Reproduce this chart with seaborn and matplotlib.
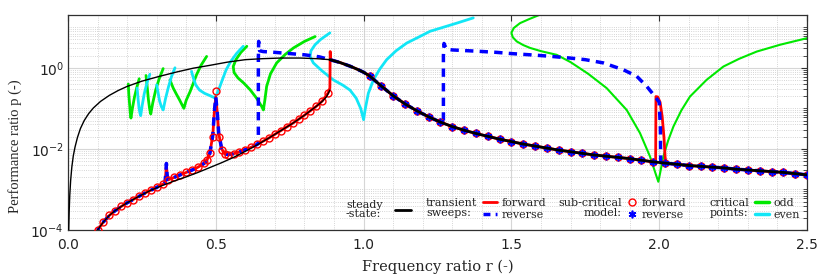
import numpy as np
import matplotlib
matplotlib.use("Agg")
import matplotlib.pyplot as plt
import seaborn as sns
from matplotlib.lines import Line2D
from matplotlib.ticker import LogLocator, MultipleLocator, NullFormatter

# ---- data (r, log10 p) ----
# steady-state, upper branch below the jump (thin)
ss_up_r = [0.0025, 0.004, 0.006, 0.009, 0.013, 0.018, 0.024, 0.032, 0.042, 0.055, 0.07, 0.086,
           0.11, 0.14, 0.17, 0.2, 0.25, 0.31, 0.37, 0.424, 0.48, 0.54, 0.6, 0.66, 0.72, 0.785, 0.84, 0.886]
ss_up_lp = [-4.0, -3.55, -3.15, -2.78, -2.45, -2.17, -1.95, -1.72, -1.5, -1.3, -1.13, -0.99,
            -0.83, -0.68, -0.56, -0.46, -0.33, -0.21, -0.1, -0.01, 0.06, 0.14, 0.2, 0.225, 0.24, 0.24, 0.225, 0.2]

# steady-state, lower branch
ss_lo_r = [0.1, 0.12, 0.14, 0.16, 0.18, 0.2, 0.24, 0.28, 0.32, 0.36, 0.4, 0.44, 0.48, 0.52,
           0.56, 0.6, 0.64, 0.68, 0.72, 0.76, 0.8, 0.84, 0.86, 0.875, 0.886]
ss_lo_lp = [-4.0, -3.8, -3.64, -3.52, -3.42, -3.33, -3.17, -3.02, -2.9, -2.79, -2.69, -2.58, -2.46, -2.34,
            -2.21, -2.06, -1.9, -1.73, -1.55, -1.37, -1.17, -0.95, -0.83, -0.71, -0.55]

# steady-state, branch above the jump (thick), sub-critical points sit on it from r = 1.02
ss_hi_r = [0.886, 0.92, 0.954, 0.98, 1.0, 1.02, 1.06, 1.10, 1.14, 1.18, 1.22, 1.26, 1.30, 1.34, 1.38,
           1.42, 1.46, 1.50, 1.54, 1.58, 1.62, 1.66, 1.70, 1.74, 1.78, 1.82, 1.86, 1.90, 1.94, 1.98,
           2.02, 2.06, 2.10, 2.14, 2.18, 2.22, 2.26, 2.30, 2.34, 2.38, 2.42, 2.46, 2.50]
ss_hi_lp = [0.2, 0.13, 0.04, -0.04, -0.11, -0.2, -0.45, -0.69, -0.89, -1.06, -1.21, -1.34, -1.45, -1.54, -1.62,
            -1.69, -1.76, -1.82, -1.88, -1.93, -1.98, -2.03, -2.07, -2.11, -2.15, -2.18, -2.21, -2.24, -2.28, -2.32,
            -2.35, -2.38, -2.41, -2.43, -2.45, -2.47, -2.50, -2.52, -2.54, -2.56, -2.58, -2.61, -2.64]

# transient forward sweep, lower part (up to the jump)
fwd_lo_r = [0.1, 0.12, 0.14, 0.16, 0.18, 0.2, 0.22, 0.24, 0.26, 0.28, 0.3, 0.32, 0.328, 0.331, 0.333,
            0.335, 0.338, 0.34, 0.36, 0.38, 0.4, 0.42, 0.44, 0.46, 0.47, 0.48, 0.49, 0.495, 0.5, 0.505,
            0.51, 0.52, 0.53, 0.54, 0.56, 0.58, 0.6, 0.62, 0.64, 0.66, 0.68, 0.7, 0.72, 0.74, 0.76,
            0.78, 0.8, 0.82, 0.84, 0.86, 0.88, 0.886, 0.887, 0.889]
fwd_lo_lp = [-4.0, -3.8, -3.64, -3.52, -3.42, -3.33, -3.25, -3.17, -3.09, -3.02, -2.95, -2.87, -2.85, -2.6, -2.36,
             -2.62, -2.76, -2.76, -2.7, -2.64, -2.58, -2.52, -2.45, -2.36, -2.28, -2.11, -1.65, -1.1, -0.72, -1.1,
             -1.62, -2.0, -2.12, -2.14, -2.12, -2.07, -2.02, -1.96, -1.89, -1.81, -1.73, -1.64, -1.55, -1.46, -1.37,
             -1.27, -1.17, -1.06, -0.95, -0.82, -0.62, -0.5, 0.4, 0.2]

# forward sweep excursion at r = 2
fwd_spike_r = [1.988, 1.989, 1.995, 2.003, 2.01, 2.016, 2.02, 2.023]
fwd_spike_lp = [-2.33, -0.71, -0.72, -0.85, -1.2, -1.7, -2.2, -2.36]

# reverse sweep upper excursions (listed in sweep order, right to left)
rev_hi2_r = [2.005, 2.004, 2.0, 1.986, 1.958, 1.924, 1.879, 1.811, 1.75, 1.698, 1.62, 1.563, 1.5,
             1.45, 1.38, 1.30, 1.28, 1.272, 1.27, 1.27]
rev_hi2_lp = [-2.34, -1.5, -0.85, -0.71, -0.46, -0.21, -0.05, 0.12, 0.2, 0.24, 0.29, 0.32, 0.35,
              0.38, 0.41, 0.44, 0.46, 0.6, 0.3, -1.33]
rev_hi1_r = [0.85, 0.8, 0.75, 0.7, 0.66, 0.648, 0.645, 0.644, 0.644]
rev_hi1_lp = [0.27, 0.32, 0.35, 0.38, 0.4, 0.42, 0.65, 0.2, -1.86]

# sub-critical model, lower branch points
sc_lo_r = [0.1, 0.12, 0.14, 0.16, 0.18, 0.2, 0.22, 0.24, 0.26, 0.28, 0.3, 0.32, 0.34, 0.36, 0.38, 0.4,
           0.42, 0.44, 0.46, 0.47, 0.48, 0.49, 0.5, 0.51, 0.52, 0.53, 0.54, 0.56, 0.58, 0.6, 0.62, 0.64,
           0.66, 0.68, 0.7, 0.72, 0.74, 0.76, 0.78, 0.8, 0.82, 0.84, 0.86, 0.88]
sc_lo_lp = [-4.0, -3.8, -3.64, -3.52, -3.42, -3.33, -3.25, -3.17, -3.09, -3.02, -2.95, -2.87, -2.77, -2.7,
            -2.64, -2.58, -2.52, -2.45, -2.36, -2.28, -2.11, -1.7, -0.57, -1.7, -2.02, -2.12, -2.14, -2.12,
            -2.07, -2.02, -1.96, -1.89, -1.81, -1.73, -1.64, -1.55, -1.46, -1.37, -1.27, -1.17, -1.06,
            -0.95, -0.82, -0.62]

# critical points: odd (green) and even (cyan) hooks
odd_hooks = [
    ([0.204, 0.206, 0.209, 0.211, 0.213, 0.218, 0.225, 0.233, 0.241],
     [-0.40, -0.68, -0.95, -1.13, -1.24, -1.0, -0.72, -0.48, -0.27]),
    ([0.264, 0.268, 0.272, 0.276, 0.280, 0.287, 0.297, 0.309, 0.322],
     [-0.19, -0.47, -0.78, -1.0, -1.14, -0.86, -0.54, -0.26, -0.02]),
    ([0.345, 0.356, 0.366, 0.378, 0.387, 0.392, 0.400, 0.413, 0.425, 0.435, 0.450, 0.469],
     [-0.30, -0.50, -0.64, -0.80, -0.93, -1.0, -0.80, -0.59, -0.36, -0.17, 0.06, 0.28]),
    ([0.605, 0.585, 0.568, 0.559, 0.562, 0.575, 0.595, 0.616, 0.638, 0.655, 0.661, 0.666, 0.672,
      0.685, 0.706, 0.735, 0.763, 0.80, 0.836],
     [0.53, 0.38, 0.2, 0.03, -0.12, -0.25, -0.38, -0.54, -0.75, -0.95, -1.04, -0.8, -0.46,
      -0.15, 0.12, 0.33, 0.49, 0.65, 0.77]),
]
odd_r2 = [1.597, 1.56, 1.529, 1.508, 1.50, 1.505, 1.518, 1.54, 1.563, 1.60, 1.653, 1.70, 1.76, 1.822,
          1.89, 1.935, 1.969, 1.991, 1.997, 2.003, 2.014, 2.03, 2.048, 2.075, 2.104, 2.16, 2.217, 2.27,
          2.33, 2.41, 2.5]
odd_lp2 = [1.31, 1.2, 1.1, 0.98, 0.86, 0.75, 0.65, 0.56, 0.49, 0.41, 0.32, 0.14, -0.15, -0.5,
           -1.04, -1.61, -2.19, -2.68, -2.81, -2.6, -2.19, -1.8, -1.45, -1.05, -0.71, -0.3, 0.03, 0.22,
           0.40, 0.57, 0.73]
even_hooks = [
    ([0.234, 0.237, 0.240, 0.243, 0.246, 0.251, 0.258, 0.267, 0.277],
     [-0.50, -0.76, -0.97, -1.10, -1.18, -0.93, -0.64, -0.38, -0.16]),
    ([0.300, 0.305, 0.310, 0.316, 0.322, 0.330, 0.340, 0.350, 0.362],
     [-0.42, -0.62, -0.82, -0.96, -1.04, -0.76, -0.47, -0.22, 0.0]),
    ([0.418, 0.424, 0.432, 0.445, 0.462, 0.478, 0.490, 0.496, 0.503, 0.512, 0.522, 0.535, 0.55, 0.57, 0.593],
     [-0.09, -0.25, -0.42, -0.55, -0.63, -0.68, -0.72, -0.74, -0.66, -0.5, -0.3, -0.05, 0.15, 0.35, 0.53]),
    ([0.886, 0.855, 0.836, 0.822, 0.819, 0.83, 0.86, 0.898, 0.93, 0.954, 0.975, 0.99, 1.0, 1.005,
      1.016, 1.033, 1.055, 1.078, 1.11, 1.146, 1.19, 1.225, 1.27, 1.315, 1.371],
     [0.86, 0.7, 0.57, 0.42, 0.28, 0.12, -0.08, -0.3, -0.43, -0.55, -0.75, -1.0, -1.28, -1.04,
      -0.63, -0.3, -0.03, 0.2, 0.42, 0.61, 0.77, 0.9, 1.0, 1.1, 1.23]),
]

RED = "#ff0000"
BLUE = "#0000ff"
GREEN = "#00e800"
CYAN = "#12e6f6"


def P(lp):
    return 10.0 ** np.asarray(lp, dtype=float)


# assemble sweeps from the pieces
ss_hi_r_a = np.array(ss_hi_r)
ss_hi_lp_a = np.array(ss_hi_lp)
left = ss_hi_r_a <= 1.98
right = ss_hi_r_a >= 2.06
fwd_r = np.concatenate([fwd_lo_r, ss_hi_r_a[(ss_hi_r_a >= 0.92) & left], fwd_spike_r, ss_hi_r_a[right]])
fwd_lp = np.concatenate([fwd_lo_lp, ss_hi_lp_a[(ss_hi_r_a >= 0.92) & left], fwd_spike_lp, ss_hi_lp_a[right]])

seg_a = ss_hi_r_a >= 2.02
seg_b = (ss_hi_r_a <= 1.26)
fwd_lo_r_a = np.array(fwd_lo_r)
fwd_lo_lp_a = np.array(fwd_lo_lp)
seg_c = fwd_lo_r_a < 0.644
rev_r = np.concatenate([ss_hi_r_a[seg_a][::-1], rev_hi2_r, ss_hi_r_a[seg_b][::-1], rev_hi1_r,
                        fwd_lo_r_a[seg_c][::-1]])
rev_lp = np.concatenate([ss_hi_lp_a[seg_a][::-1], rev_hi2_lp, ss_hi_lp_a[seg_b][::-1], rev_hi1_lp,
                         fwd_lo_lp_a[seg_c][::-1]])

sc_hi = ss_hi_r_a >= 1.02
sc_r = np.concatenate([sc_lo_r, ss_hi_r_a[sc_hi]])
sc_lp = np.concatenate([sc_lo_lp, ss_hi_lp_a[sc_hi]])

# ---- figure ----
sns.set_style("whitegrid")
plt.rcParams["mathtext.fontset"] = "dejavusans"

fig = plt.figure(figsize=(8.3, 2.79), dpi=100)
ax = fig.add_subplot(111)
fig.subplots_adjust(left=0.0819, right=0.9723, bottom=0.1756, top=0.9462)
ax.set_yscale("log")

for hr, hlp in odd_hooks:
    sns.lineplot(x=hr, y=P(hlp), sort=False, estimator=None, color=GREEN, lw=2, ax=ax, zorder=2)
sns.lineplot(x=odd_r2, y=P(odd_lp2), sort=False, estimator=None, color=GREEN, lw=1.5, ax=ax, zorder=2)
for hr, hlp in even_hooks:
    sns.lineplot(x=hr, y=P(hlp), sort=False, estimator=None, color=CYAN, lw=2, ax=ax, zorder=2)

sns.lineplot(x=fwd_r, y=P(fwd_lp), sort=False, estimator=None, color=RED, lw=2, ax=ax, zorder=3)
ax.plot(rev_r, P(rev_lp), color=BLUE, lw=2.5, linestyle=(0, (2.4, 1.8)), zorder=3.5)

ax.plot(sc_r, P(sc_lp), linestyle="none", marker="o", ms=5, mfc="none", mec=RED, mew=1, zorder=4)
ax.plot(ss_hi_r_a[sc_hi], P(ss_hi_lp_a[sc_hi]), linestyle="none", marker=(6, 2, 0), ms=5.5,
        mec=BLUE, mew=1.2, zorder=4.5)

sns.lineplot(x=ss_up_r, y=P(ss_up_lp), sort=False, estimator=None, color="k", lw=1, ax=ax, zorder=5)
sns.lineplot(x=ss_lo_r, y=P(ss_lo_lp), sort=False, estimator=None, color="k", lw=1, ax=ax, zorder=5)
sns.lineplot(x=ss_hi_r, y=P(ss_hi_lp), sort=False, estimator=None, color="k", lw=2, ax=ax, zorder=5)

# axes
ax.set_xlim(0, 2.5)
ax.set_ylim(1e-4, 20)
ax.xaxis.set_major_locator(MultipleLocator(0.5))
ax.xaxis.set_minor_locator(MultipleLocator(0.1))
ax.xaxis.set_major_formatter(matplotlib.ticker.FormatStrFormatter("%.1f"))
ax.yaxis.set_major_locator(LogLocator(base=100))
ax.yaxis.set_minor_locator(LogLocator(base=10, subs=np.arange(1, 10), numticks=50))
ax.yaxis.set_minor_formatter(NullFormatter())

ax.grid(which="major", color="#d6d6d6", lw=0.8, ls="-")
ax.grid(which="minor", color="#c8c8c8", lw=0.6, ls=":")
ax.set_axisbelow(True)
for s in ax.spines.values():
    s.set_color("#303030")
    s.set_linewidth(0.9)

ax.tick_params(which="both", direction="in", top=True, right=True, colors="#303030",
               labelcolor="#222222", labelsize=10)
ax.tick_params(axis="x", which="major", length=4, pad=6)
ax.tick_params(axis="x", which="minor", length=0)
ax.tick_params(axis="y", which="major", length=4, pad=3)
ax.tick_params(axis="y", which="minor", length=3)
for lab in ax.get_xticklabels() + ax.get_yticklabels():
    lab.set_family("DejaVu Sans")

ax.set_xlabel("Frequency ratio r (-)", family="DejaVu Serif", fontsize=10.5, labelpad=5)
ax.set_ylabel("Performance ratio p (-)", family="Liberation Serif", fontsize=10.5)
ax.yaxis.set_label_coords(-0.062, 0.39)

# legend groups
lkw = dict(frameon=False, borderpad=0, borderaxespad=0, handletextpad=0.4, labelspacing=0.12,
           loc="center left", prop={"family": "DejaVu Serif", "size": 8})
tkw = dict(transform=ax.transAxes, va="center", fontsize=8, family="DejaVu Serif",
           linespacing=0.95, color="#222222")

ax.text(0.3762, 0.0963, "steady\n-state:", ha="left", **tkw)
lg = ax.legend([Line2D([], [], color="k", lw=2)], [""], bbox_to_anchor=(0.4425, 0.088),
               handlelength=1.4, **lkw)
ax.add_artist(lg)

ax.text(0.4844, 0.102, "transient\nsweeps:", ha="left", **tkw)
lg = ax.legend([Line2D([], [], color=RED, lw=2),
                Line2D([], [], color=BLUE, lw=2.5, linestyle=(0, (2.0, 1.5)))],
               ["forward", "reverse"], bbox_to_anchor=(0.5612, 0.098), handlelength=1.3, **lkw)
ax.add_artist(lg)

ax.text(0.7493, 0.102, "sub-critical\nmodel:", ha="right", multialignment="right", **tkw)
lg = ax.legend([Line2D([], [], ls="none", marker="o", ms=5, mfc="none", mec=RED, mew=1),
                Line2D([], [], ls="none", marker=(6, 2, 0), ms=5.5, mec=BLUE, mew=1.2)],
               ["forward", "reverse"], bbox_to_anchor=(0.7577, 0.098), handlelength=0.8, **lkw)
ax.add_artist(lg)

ax.text(0.8687, 0.102, "critical\npoints:", ha="left", **tkw)
lg = ax.legend([Line2D([], [], color=GREEN, lw=2.5), Line2D([], [], color=CYAN, lw=2.5)],
               ["odd", "even"], bbox_to_anchor=(0.9296, 0.098), handlelength=1.3, **lkw)

fig.savefig("out.png", dpi=100)
